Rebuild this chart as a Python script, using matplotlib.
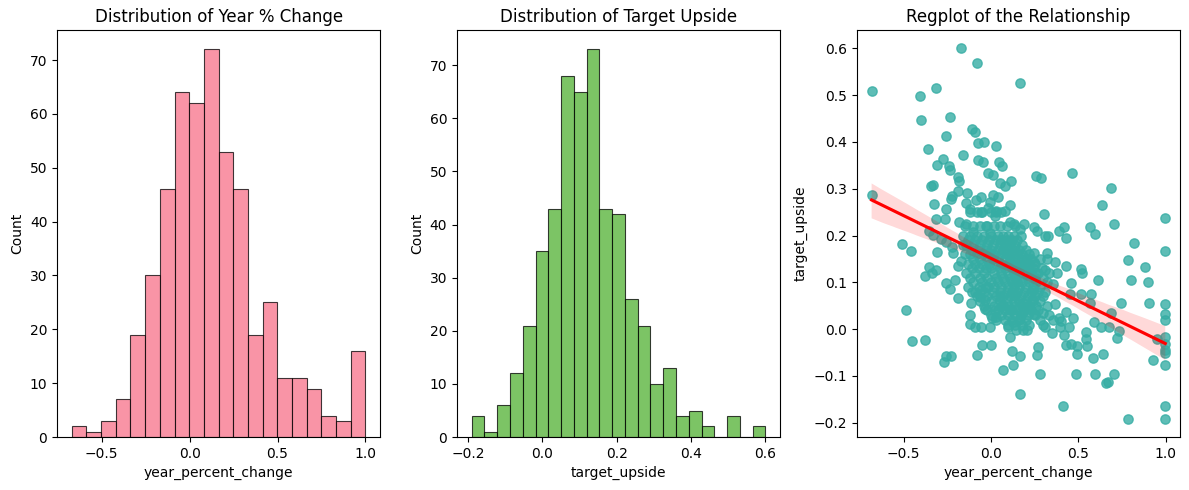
import matplotlib
matplotlib.use("Agg")
import matplotlib.pyplot as plt
import numpy as np
import seaborn as sns

# histogram of year_percent_change (20 bins)
YEAR_RANGE = (-0.67, 1.0)
YEAR_COUNTS = [2, 1, 3, 7, 19, 30, 46, 64, 62, 72, 53, 46, 19, 25, 11, 11, 9, 4, 3, 16]

# histogram of target_upside (23 bins)
UPSIDE_RANGE = (-0.19, 0.60)
UPSIDE_COUNTS = [4, 1, 6, 12, 21, 35, 43, 68, 65, 73, 43, 42, 26, 21, 10, 13, 4, 5, 2, 0, 4, 0, 2]

# scatter: outer (readable) points
OUTER_X = [
    -0.683, -0.174, -0.080, 0.164, -0.405, -0.317, -0.401, -0.235, -0.111, -0.092,
    -0.258, -0.073, -0.038, 0.029, -0.361, -0.157, -0.277, -0.075, -0.046, -0.310,
    -0.239, 0.044, 0.061, -0.237, -0.015, 0.011, 0.260, 0.289, 0.465, -0.191,
    -0.180, 0.050, 0.113, 0.078, -0.333, -0.344, 0.688, -0.189, -0.136, 0.011,
    -0.222, -0.055, 0.040, -0.679, -0.228, -0.084, -0.008, -0.141, -0.323, 0.107,
    0.637, -0.017, -0.122, -0.256, 0.031, -0.055, 0.078, 0.304, 0.025, -0.317,
    -0.264, 0.998, 0.107, 0.130, 0.189, 0.247, 0.704, -0.185, -0.141, -0.027,
    0.566, 0.419, 0.262, 0.388, 0.164, 0.597, 0.310, 0.329, 0.428, -0.352,
    -0.333, -0.285, -0.256, -0.103, -0.008, -0.510, 0.820, -0.457, 0.998, -0.310,
    0.786, 0.801, 0.883, 0.901, 0.906, 0.998, 0.998, 0.998, 0.998, 0.998,
    0.998, 0.998, 0.998, 0.998, 0.998, 0.786, 0.948, 0.925, 0.746, 0.734,
    0.719, 0.706, 0.686, 0.677, 0.671, 0.658, 0.642, 0.629, 0.614, 0.596,
    0.587, 0.591, 0.574, 0.568, 0.545, 0.545, 0.549, 0.516, 0.520, 0.516,
    0.491, 0.495, 0.488, 0.461, 0.451, 0.470, 0.447, 0.457, 0.428, 0.413,
    0.428, 0.432, 0.403, 0.398, 0.392, 0.419, 0.369, 0.377, 0.358, 0.367,
    0.358, 0.350, 0.319, 0.323, 0.310, 0.310, 0.298, 0.270, 0.264, 0.281,
    0.249, 0.249, 0.258, 0.239, 0.235, 0.249, 0.164, 0.164, 0.126, 0.122,
    0.069, 0.002, -0.050, -0.078, -0.228, -0.260, -0.268, -0.375, -0.449, -0.488,
    -0.380, -0.352, -0.336, -0.312, -0.256, -0.237, -0.189, -0.203, -0.189, -0.170,
    -0.218, -0.224, -0.161, -0.113, -0.119, -0.122, -0.092, -0.055, -0.008, 0.008,
    0.031, 0.021, -0.036, -0.065, -0.036, -0.094, -0.055, -0.017, 0.050, 0.069,
    0.107, 0.097, 0.126, 0.107, 0.145, 0.184, 0.207, 0.164, 0.184, 0.212, 0.184,
]
OUTER_Y = [
    0.510, 0.600, 0.568, 0.525, 0.498, 0.515, 0.448, 0.453, 0.428, 0.422,
    0.412, 0.398, 0.399, 0.391, 0.385, 0.372, 0.363, 0.362, 0.358, 0.350,
    0.348, 0.357, 0.348, 0.341, 0.334, 0.330, 0.328, 0.322, 0.333, 0.326,
    0.317, 0.312, 0.316, 0.306, 0.309, 0.307, 0.301, 0.295, 0.290, 0.287,
    0.285, 0.282, 0.282, 0.287, 0.278, 0.277, 0.271, 0.270, 0.268, 0.265,
    0.265, 0.260, 0.257, 0.257, 0.253, 0.251, 0.253, 0.246, 0.241, 0.236,
    0.236, 0.237, 0.228, 0.225, 0.224, 0.218, 0.225, 0.230, 0.225, 0.221,
    0.218, 0.218, 0.210, 0.210, 0.214, 0.204, 0.199, 0.199, 0.194, 0.209,
    0.201, 0.193, 0.186, 0.207, 0.206, 0.181, 0.185, 0.167, 0.168, 0.166,
    0.148, 0.105, 0.132, 0.100, 0.057, 0.053, 0.032, 0.019, -0.016, -0.031,
    -0.044, -0.051, -0.076, -0.165, -0.191, -0.191, -0.020, -0.065, 0.057, -0.004,
    -0.018, -0.095, 0.035, 0.005, -0.113, -0.115, -0.054, 0.005, 0.105, -0.095,
    -0.061, 0.016, 0.076, 0.057, -0.006, -0.022, -0.036, 0.128, 0.119, 0.076,
    -0.036, -0.052, -0.095, 0.099, 0.075, 0.023, 0.005, -0.031, -0.034, -0.165,
    0.135, 0.037, 0.018, 0.005, 0.023, -0.013, 0.144, 0.121, 0.096, 0.054,
    0.019, -0.009, 0.162, 0.149, 0.126, 0.005, 0.035, -0.038, -0.056, -0.096,
    0.162, 0.144, 0.121, 0.084, 0.062, 0.032, -0.058, -0.138, -0.076, -0.046,
    -0.088, -0.033, -0.034, -0.056, -0.058, -0.058, -0.071, -0.024, -0.026, 0.041,
    0.114, 0.132, 0.121, 0.126, 0.099, 0.085, 0.066, 0.105, 0.135, 0.146,
    0.162, 0.176, 0.180, 0.055, 0.030, 0.012, 0.005, 0.005, 0.005, 0.023,
    0.026, 0.041, 0.044, 0.069, 0.062, 0.080, 0.084, 0.091, 0.069, 0.051,
    0.041, 0.005, 0.016, -0.016, -0.002, -0.002, -0.001, 0.021, 0.037, 0.048, 0.055,
]

# scatter: dense core, one row of x positions per approximate y level
CORE_LEVELS = [0.25, 0.22, 0.20, 0.19, 0.18, 0.17, 0.16, 0.15, 0.14, 0.13, 0.12,
               0.11, 0.10, 0.09, 0.08, 0.07, 0.06, 0.05, 0.04, 0.03, 0.02, 0.01]
CORE_ROWS = [
    [-0.12, -0.08, -0.05, 0.0, 0.03, 0.06],
    [-0.15, -0.10, -0.06, -0.02, 0.02, 0.05, 0.09, 0.14],
    [-0.16, -0.12, -0.08, -0.04, 0.0, 0.04, 0.07, 0.10, 0.13, 0.17],
    [-0.13, -0.09, -0.05, -0.01, 0.03, 0.06, 0.09, 0.12, 0.15],
    [-0.14, -0.10, -0.06, -0.02, 0.01, 0.05, 0.08, 0.11, 0.14, 0.18],
    [-0.11, -0.07, -0.03, 0.0, 0.04, 0.07, 0.10, 0.13, 0.16, 0.20],
    [-0.15, -0.12, -0.08, -0.04, -0.01, 0.02, 0.06, 0.09, 0.12, 0.15, 0.18, 0.22],
    [-0.10, -0.06, -0.02, 0.01, 0.04, 0.08, 0.11, 0.14, 0.17, 0.20, 0.23, 0.28],
    [-0.13, -0.09, -0.05, -0.01, 0.03, 0.06, 0.10, 0.13, 0.16, 0.19, 0.22, 0.25],
    [-0.11, -0.07, -0.03, 0.0, 0.05, 0.08, 0.12, 0.15, 0.18, 0.21, 0.24, 0.29],
    [-0.14, -0.09, -0.04, 0.02, 0.06, 0.10, 0.13, 0.16, 0.20, 0.23, 0.27, 0.33],
    [-0.12, -0.06, -0.02, 0.03, 0.07, 0.11, 0.14, 0.17, 0.21, 0.25, 0.30],
    [-0.10, -0.05, 0.0, 0.04, 0.08, 0.12, 0.15, 0.18, 0.22, 0.26, 0.32],
    [-0.13, -0.07, -0.03, 0.02, 0.06, 0.10, 0.13, 0.16, 0.20, 0.24, 0.28],
    [-0.11, -0.04, 0.01, 0.05, 0.09, 0.12, 0.15, 0.19, 0.23, 0.27, 0.31],
    [-0.08, -0.02, 0.03, 0.07, 0.11, 0.14, 0.17, 0.21, 0.25, 0.30],
    [-0.06, 0.0, 0.05, 0.09, 0.13, 0.16, 0.20, 0.24, 0.28],
    [-0.04, 0.02, 0.06, 0.10, 0.14, 0.18, 0.22, 0.26, 0.32],
    [-0.02, 0.04, 0.08, 0.12, 0.15, 0.19, 0.23, 0.27],
    [0.0, 0.06, 0.10, 0.14, 0.17, 0.21, 0.25, 0.33],
    [0.03, 0.08, 0.12, 0.16, 0.20, 0.28],
    [0.10, 0.14, 0.18, 0.22, 0.30],
]

PINK = "#f77189"
GREEN = "#50b131"
TEAL = "#36ada4"


def hist_bars(ax, counts, lo, hi, color):
    edges = np.linspace(lo, hi, len(counts) + 1)
    ax.bar(edges[:-1], counts, width=np.diff(edges), align="edge",
           color=color, alpha=0.75, edgecolor="black", linewidth=0.8)
    ax.set_ylabel("Count")


def main():
    core_x, core_y = [], []
    for level, row in zip(CORE_LEVELS, CORE_ROWS):
        core_x += row
        core_y += [level] * len(row)
    xs = np.array(OUTER_X + core_x)
    ys = np.array(OUTER_Y + core_y)

    fig, axes = plt.subplots(1, 3, figsize=(11.89, 4.9), dpi=100)

    hist_bars(axes[0], YEAR_COUNTS, *YEAR_RANGE, PINK)
    axes[0].set_title("Distribution of Year % Change")
    axes[0].set_xlabel("year_percent_change")

    hist_bars(axes[1], UPSIDE_COUNTS, *UPSIDE_RANGE, GREEN)
    axes[1].set_title("Distribution of Target Upside")
    axes[1].set_xlabel("target_upside")

    sns.regplot(x=xs, y=ys, ax=axes[2], color=TEAL, seed=0,
                scatter_kws={"s": 45}, line_kws={"color": "red"})
    axes[2].set_title("Regplot of the Relationship")
    axes[2].set_xlabel("year_percent_change")
    axes[2].set_ylabel("target_upside")

    fig.subplots_adjust(left=0.048, right=0.9924, top=0.939, bottom=0.108,
                        wspace=0.238)
    fig.savefig("out.png", dpi=100)


if __name__ == "__main__":
    main()
